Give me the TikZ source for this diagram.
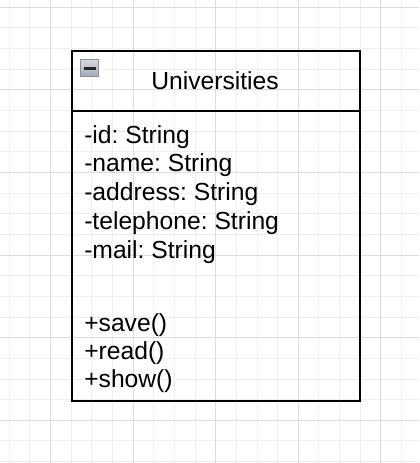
\documentclass[tikz,border=0pt]{standalone}
\usepackage{fontspec}
\setmainfont{Liberation Sans}
\definecolor{gridminor}{HTML}{EFEFEF}
\definecolor{gridmajor}{HTML}{DCDCDC}
\definecolor{iconborder}{HTML}{8C919C}
\definecolor{icontop}{HTML}{D4D8E0}
\definecolor{iconbot}{HTML}{A2A8B4}
\frenchspacing
\begin{document}
\begin{tikzpicture}[x=0.75pt,y=-0.75pt,
  minorline/.style={draw=gridminor,line width=0.75pt},
  majorline/.style={draw=gridmajor,line width=0.75pt},
  classbox/.style={draw=black,line width=1.5pt,rectangle,inner sep=0pt,anchor=north west,
    minimum width=216pt,minimum height=262.5pt},
  divider/.style={draw=black,line width=1.5pt},
  txt/.style={inner sep=0pt,font=\fontsize{18.5pt}{22pt}\selectfont\frenchspacing,text=black},
  togglebox/.style={rectangle,inner sep=0pt,minimum size=13pt,draw=iconborder,line width=0.9pt,
    top color=icontop,bottom color=iconbot},
  minusbar/.style={draw=black!85,line width=2.2pt}]
\fill[white] (0,0) rectangle (419,463);
\useasboundingbox (0,0) rectangle (419,463);
% grid
\foreach \k in {0,...,19} {\draw[minorline] ({9.2+\k*20.65},0) -- ({9.2+\k*20.65},463);}
\foreach \k in {0,...,22} {\draw[minorline] (0,{7.3+\k*20.65}) -- (419,{7.3+\k*20.65});}
\foreach \k in {2,6,10,14,18} {\draw[majorline] ({9.2+\k*20.65},0) -- ({9.2+\k*20.65},463);}
\foreach \k in {0,4,8,12,16,20} {\draw[majorline] (0,{7.3+\k*20.65}) -- (419,{7.3+\k*20.65});}
% class
\node[classbox] (cls) at (71,50) {};
\coordinate (divl) at (71,111);
\coordinate (divr) at (359,111);
\draw[divider] (divl) -- (divr);
\node[togglebox] (tog) at (89.5,68.2) {};
\coordinate (ml) at (83.5,68.2);
\coordinate (mr) at (95.5,68.2);
\draw[minusbar] (ml) -- (mr);
\node[txt,anchor=base] (title) at (215,90) {Universities};
\node[txt,anchor=base west] (a1) at (84,143.3) {-id: String};
\node[txt,anchor=base west] (a2) at (84,172) {-name: String};
\node[txt,anchor=base west] (a3) at (84,200.7) {-address: String};
\node[txt,anchor=base west] (a4) at (84,229.3) {-telephone: String};
\node[txt,anchor=base west] (a5) at (84,258) {-mail: String};
\node[txt,anchor=base west] (o1) at (84,331.5) {+save()};
\node[txt,anchor=base west] (o2) at (84,359.5) {+read()};
\node[txt,anchor=base west] (o3) at (84,387.5) {+show()};
\end{tikzpicture}
\end{document}
